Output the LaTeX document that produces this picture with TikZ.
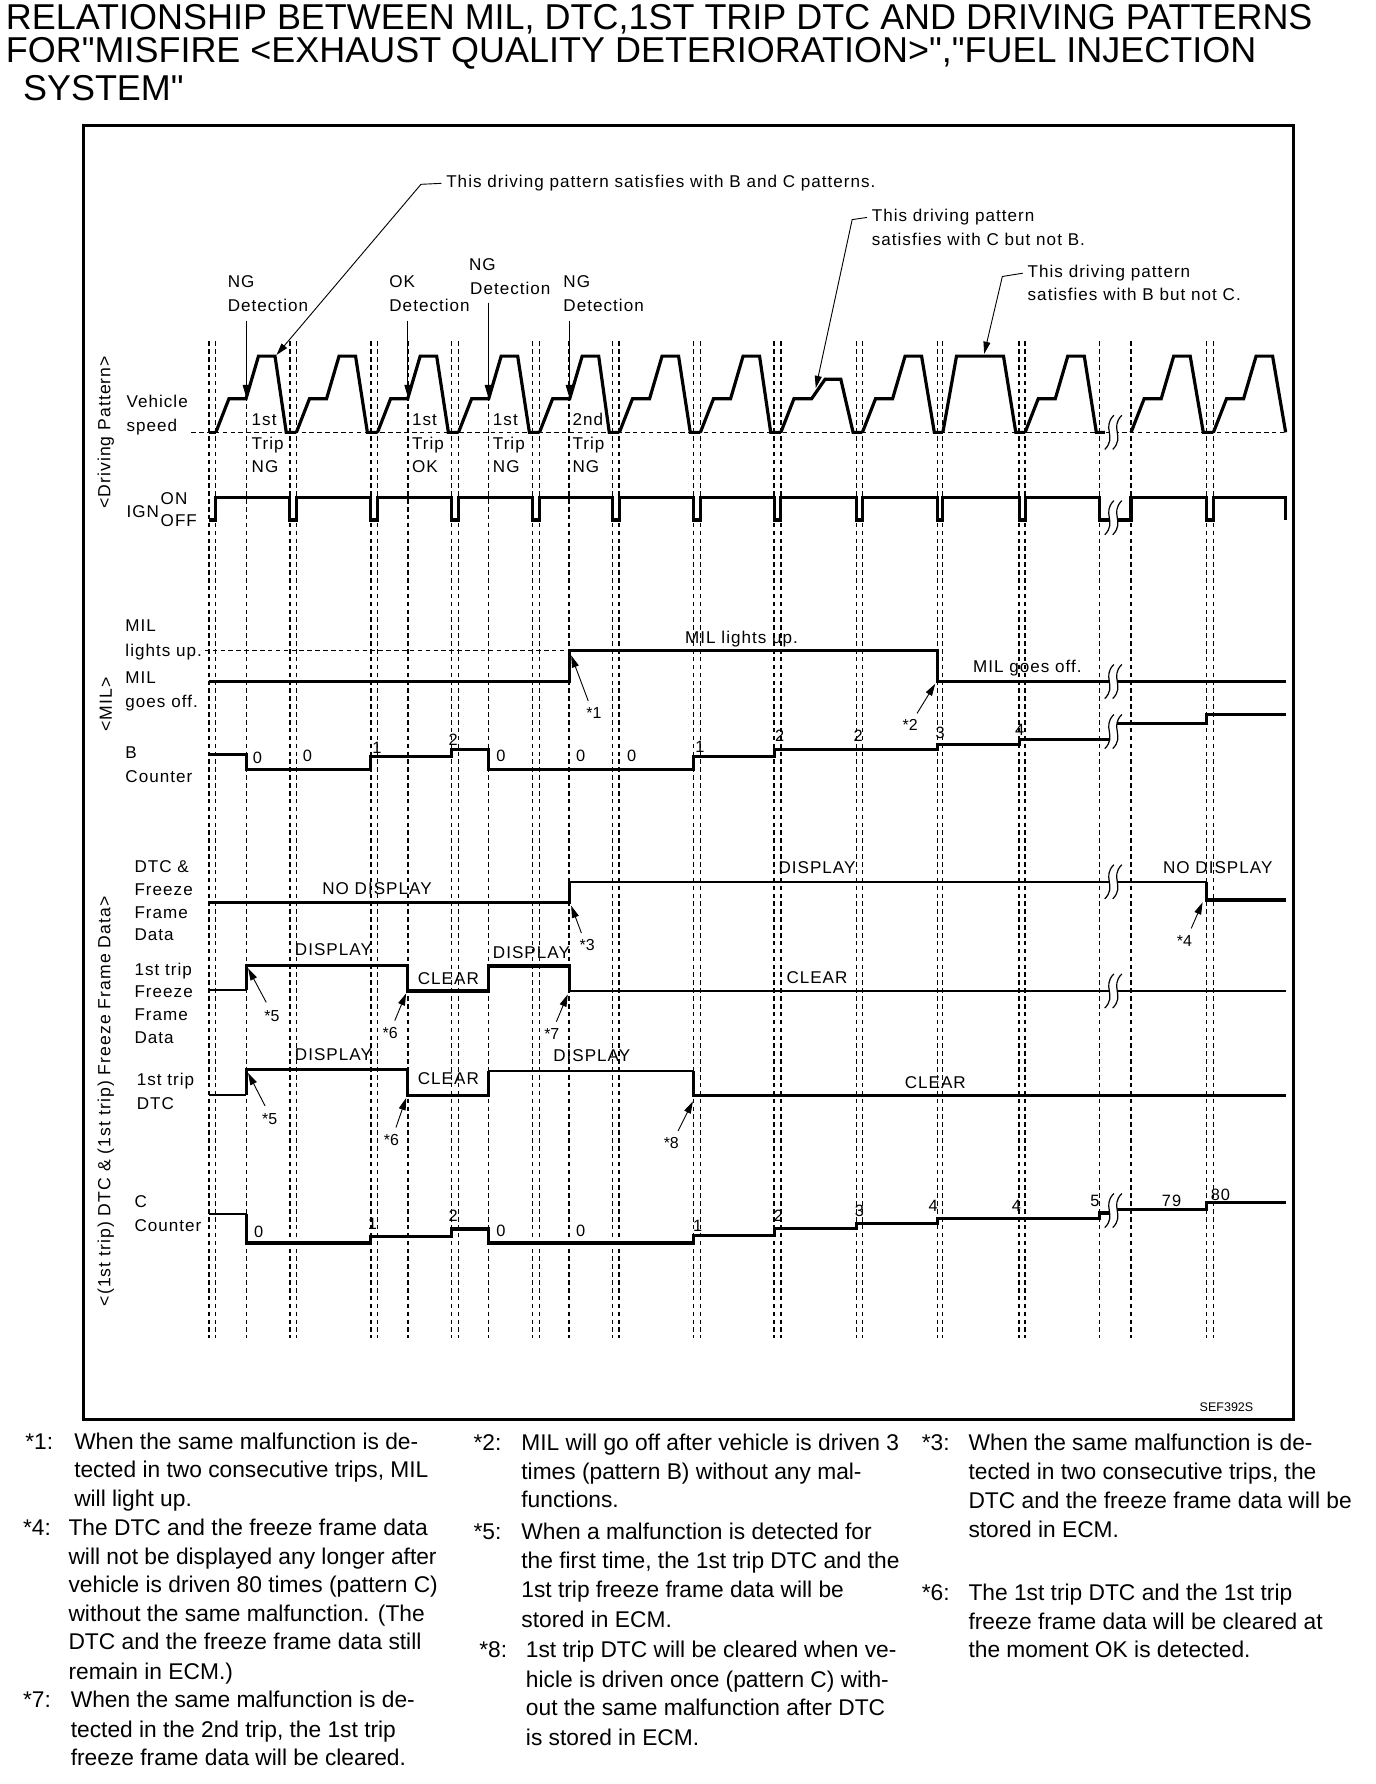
\documentclass[tikz,border=0pt]{standalone}
\usepackage{fontspec}
\setmainfont{Liberation Sans}
\newfontfamily\cf[LetterSpace=6]{Liberation Sans}
\newfontfamily\tf{Liberation Sans}
\usetikzlibrary{arrows.meta}
\newcommand\brksym[2]{%
  \fill[white] (#1+4,#2-15) .. controls (#1-7,#2-4) and (#1+7,#2+4) .. (#1-4,#2+15) -- (#1+3,#2+15) .. controls (#1+14,#2+4) and (#1,#2-4) .. (#1+11,#2-15) -- cycle;
  \draw[brk] (#1+4,#2-15) .. controls (#1-7,#2-4) and (#1+7,#2+4) .. (#1-4,#2+15);
  \draw[brk] (#1+11,#2-15) .. controls (#1,#2-4) and (#1+14,#2+4) .. (#1+3,#2+15);}
\begin{document}
\begin{tikzpicture}[x=0.75pt,y=-0.75pt,
 trace/.style={line width=2.1pt},
 thintrace/.style={line width=1.3pt},
 gridl/.style={line width=0.7pt, dash pattern=on 3pt off 2.2pt},
 gridh/.style={line width=1.2pt, dash pattern=on 3pt off 2.2pt},
 lead/.style={line width=0.6pt},
 arr/.style={line width=0.6pt, -{Triangle[length=8pt,width=4.6pt]}},
 brk/.style={line width=0.8pt},
 lbl/.style={font=\fontsize{11.25}{13}\cf, inner sep=0pt, anchor=base west},
 num/.style={font=\fontsize{10.8}{12}\cf, inner sep=0pt, anchor=base west},
 star/.style={font=\fontsize{10.5}{12}\selectfont, inner sep=0pt},
 fn/.style={font=\fontsize{15}{18}\selectfont, inner sep=0pt, anchor=base west},
 ttl/.style={font=\fontsize{23.7}{28}\tf, inner sep=0pt, anchor=base west},
 side/.style={font=\fontsize{11.6}{13}\cf, inner sep=0pt, rotate=90}]
\fill[white] (0,0) rectangle (1209,1568);
\useasboundingbox (0,0) rectangle (1209,1568);

% ---------- title ----------
\node[ttl] (t1) at (5,26) {RELATIONSHIP BETWEEN MIL, DTC,1ST TRIP DTC AND DRIVING PATTERNS};
\node[ttl] (t2) at (5,55) {FOR"MISFIRE <EXHAUST QUALITY DETERIORATION>","FUEL INJECTION};
\node[ttl] (t3) at (20,88) {SYSTEM"};

% ---------- frame ----------
\draw[line width=2pt] (73,110) rectangle (1137,1248);
\node[font=\fontsize{8.25}{10}\selectfont, inner sep=0pt] (sef) at (1078,1237) {SEF392S};

% ---------- grid ----------
\foreach \x in {189.7,216.4,260.5,331.8,397.1,403,429.1,468.3,474.2,538.5,609.7,615.6,752.8,824.2,828.7,966.6,1060.6,1066.5}
  \draw[gridl] (\x,300) -- (\x,1176);
\foreach \x in {183.4,254.6,325.9,358.5,500.3,544.4,680.4,686.3,758,895.8,901,994.1}
  \draw[gridh] (\x,300) -- (\x,1176);
\draw[gridl] (168,380) -- (1130,380);
\draw[gridl] (180,572) -- (500.3,572);

% ---------- side labels ----------
\node[side] (sdp) at (93,380) {<Driving Pattern>};
\node[side] (smil) at (93,619) {<MIL>};
\node[side] (sdtc) at (93,968) {<(1st trip) DTC \& (1st trip) Freeze Frame Data>};

% ---------- row labels ----------
\node[lbl] at (111,358) {Vehicle};
\node[lbl] at (111,379) {speed};
\node[lbl] at (111,455) {IGN};
\node[lbl] at (141,443) {ON};
\node[lbl] at (141,463) {OFF};
\node[lbl] at (110,555) {MIL};
\node[lbl] at (110,577) {lights up.};
\node[lbl] at (110,601) {MIL};
\node[lbl] at (110,622) {goes off.};
\node[lbl] at (110,667) {B};
\node[lbl] at (110,688) {Counter};
\node[lbl] at (118,767) {DTC \&};
\node[lbl] at (118,787) {Freeze};
\node[lbl] at (118,807) {Frame};
\node[lbl] at (118,827) {Data};
\node[lbl] at (118,857) {1st trip};
\node[lbl] at (118,877) {Freeze};
\node[lbl] at (118,897) {Frame};
\node[lbl] at (118,917) {Data};
\node[lbl] at (120,954) {1st trip};
\node[lbl] at (120,975) {DTC};
\node[lbl] at (118,1061) {C};
\node[lbl] at (118,1082) {Counter};

% ---------- top annotations ----------
\node[lbl] (annA) at (392,165) {This driving pattern satisfies with B and C patterns.};
\node[lbl] (annB) at (766,195) {This driving pattern};
\node[lbl] at (766,216) {satisfies with C but not B.};
\node[lbl] (annC) at (903,244) {This driving pattern};
\node[lbl] at (903,264) {satisfies with B but not C.};
\coordinate (tipA) at (243,312);
\coordinate (tipB) at (717,341);
\coordinate (tipC) at (865,311);
\draw[arr] ([xshift=-3pt]annA.west) -- (370,162) -- (tipA);
\draw[arr] ([xshift=-3pt]annB.west) -- (749,193) -- (tipB);
\draw[arr] ([xshift=-3pt]annC.west) -- (881,243) -- (tipC);

\node[lbl] at (200,253) {NG};
\node[lbl] (d1) at (200,274) {Detection};
\node[lbl] at (342,253) {OK};
\node[lbl] (d2) at (342,274) {Detection};
\node[lbl] at (412,238) {NG};
\node[lbl] (d3) at (413,259) {Detection};
\node[lbl] at (495,253) {NG};
\node[lbl] (d4) at (495,274) {Detection};
\draw[arr] (216.4,282) -- (216.4,349);
\draw[arr] (358.5,282) -- (358.5,349);
\draw[arr] (429.1,266) -- (429.1,349);
\draw[arr] (500.3,282) -- (500.3,349);

\foreach \x/\a/\b in {221/1st/NG, 362/1st/OK, 433/1st/NG, 503/2nd/NG} {
  \node[lbl] at (\x,374) {\a};
  \node[lbl] at (\x,395) {Trip};
  \node[lbl] at (\x,415) {\b};
}

% ---------- vehicle speed ----------
\draw[trace] (183.4,380) -- (189.7,380);
\foreach \b/\e/\n in {189.7/254.6/260.5, 260.5/325.9/331.8, 331.8/397.1/403, 403/468.3/474.2, 474.2/538.5/544.4, 544.4/609.7/615.6, 615.6/680.4/686.3, 758/824.2/828.7, 901/966.6/971, 994.1/1060.6/1066.5, 1066.5/1133/1130}
  \draw[trace] (\b,380) -- (\b+11.5,350.5) -- (\b+26.5,350.5) -- (\b+37.5,313) -- (\b+52,313) -- (\e-3,380) -- (\n,380);
\draw[trace] (686.3,380) -- (697.8,350.5) -- (713.3,350.5) -- (725.2,333.3) -- (739,333.3) -- (749.8,380) -- (758,380);
\draw[trace] (828.7,380) -- (840.7,313) -- (882,313) -- (892.8,380) -- (901,380);

% ---------- IGN ----------
\draw[trace] (183.4,457) -- (189.7,457) -- (189.7,437)
  -- (254.6,437) -- (254.6,457) -- (260.5,457) -- (260.5,437)
  -- (325.9,437) -- (325.9,457) -- (331.8,457) -- (331.8,437)
  -- (397.1,437) -- (397.1,457) -- (403,457) -- (403,437)
  -- (468.3,437) -- (468.3,457) -- (474.2,457) -- (474.2,437)
  -- (538.5,437) -- (538.5,457) -- (544.4,457) -- (544.4,437)
  -- (609.7,437) -- (609.7,457) -- (615.6,457) -- (615.6,437)
  -- (680.4,437) -- (680.4,457) -- (686.3,457) -- (686.3,437)
  -- (752.8,437) -- (752.8,457) -- (758,457) -- (758,437)
  -- (824.2,437) -- (824.2,457) -- (828.7,457) -- (828.7,437)
  -- (895.8,437) -- (895.8,457) -- (901,457) -- (901,437)
  -- (966.6,437) -- (966.6,457) -- (994.1,457) -- (994.1,437)
  -- (1060.6,437) -- (1060.6,457) -- (1066.5,457) -- (1066.5,437)
  -- (1130,437) -- (1130,457);

% ---------- MIL ----------
\draw[trace] (183.4,599) -- (500.3,599) -- (500.3,572) -- (824.2,572) -- (824.2,599) -- (1130,599);
\node[lbl] at (602,566) {MIL lights up.};
\node[lbl] at (855,591) {MIL goes off.};

% ---------- B counter ----------
\draw[trace] (183.4,663) -- (216.4,663) -- (216.4,676) -- (325.9,676) -- (325.9,665) -- (397.1,665) -- (397.1,659) -- (429.1,659) -- (429.1,676) -- (609.7,676) -- (609.7,665) -- (680.4,665) -- (680.4,659) -- (824.2,659) -- (824.2,654.6) -- (895.8,654.6) -- (895.8,650) -- (978,650);
\draw[trace] (981,635.6) -- (1060.6,635.6) -- (1060.6,628.3) -- (1130,628.3);
\foreach \x/\y/\t in {222/671/0, 266/669/0, 327/662/1, 394/655/2, 436/669/0, 506/669/0, 551/669/0, 611/661/1, 681/652/2, 750/652/2, 822/649/3, 892/646/4}
  \node[num] at (\x,\y) {\t};

% ---------- DTC & freeze frame ----------
\draw[trace] (183.4,793) -- (500.3,793) -- (500.3,775);
\draw[thintrace] (500.3,775) -- (1060.6,775);
\draw[trace] (1060.6,775) -- (1060.6,791) -- (1130,791);
\node[lbl] at (283,786) {NO DISPLAY};
\node[lbl] at (684,768) {DISPLAY};
\node[lbl] at (1022,768) {NO DISPLAY};

% ---------- 1st trip freeze frame ----------
\draw[thintrace] (183.4,870) -- (216.4,870);
\draw[trace] (216.4,870) -- (216.4,848.5) -- (358.5,848.5) -- (358.5,871) -- (429.1,871) -- (429.1,849) -- (500.3,849) -- (500.3,871);
\draw[thintrace] (500.3,871) -- (1130,871);
\node[lbl] at (259,840) {DISPLAY};
\node[lbl] at (367,865) {CLEAR};
\node[lbl] at (433,842) {DISPLAY};
\node[lbl] at (691,864) {CLEAR};

% ---------- 1st trip DTC ----------
\draw[thintrace] (183.4,962) -- (216.4,962);
\draw[trace] (216.4,962) -- (216.4,940) -- (358.5,940) -- (358.5,962.6) -- (429.1,962.6) -- (429.1,941);
\draw[thintrace] (429.1,941) -- (609.7,941);
\draw[trace] (609.7,941) -- (609.7,963) -- (1130,963);
\node[lbl] at (259,932) {DISPLAY};
\node[lbl] at (367,953) {CLEAR};
\node[lbl] at (486,933) {DISPLAY};
\node[lbl] at (795,957) {CLEAR};

% ---------- C counter ----------
\draw[thintrace] (183.4,1067) -- (216.4,1067);
\draw[trace] (216.4,1067) -- (216.4,1092.5) -- (325.9,1092.5) -- (325.9,1086.7) -- (397.1,1086.7) -- (397.1,1080.2) -- (429.1,1080.2) -- (429.1,1092.5) -- (609.7,1092.5) -- (609.7,1086) -- (680.4,1086) -- (680.4,1080) -- (752.8,1080) -- (752.8,1075.5) -- (824.2,1075.5) -- (824.2,1071.1) -- (966.6,1071.1) -- (966.6,1066.2) -- (977,1066.2);
\draw[trace] (981,1063.2) -- (1060.6,1063.2) -- (1060.6,1056.8) -- (1130,1056.8);
\foreach \x/\y/\t in {223/1088/0, 323/1081/1, 394/1074/2, 436/1087/0, 506/1087/0, 609/1082/1, 680/1074/2, 751/1069/3, 816/1065/4, 889/1065/4, 958/1060/5, 1021/1060/79, 1064/1055/80}
  \node[num] at (\x,\y) {\t};

% ---------- breaks ----------
\brksym{975}{380}
\brksym{975}{455}
\brksym{975}{599}
\brksym{975}{643}
\brksym{975}{775}
\brksym{975}{871}
\brksym{975}{1064}

% ---------- note markers ----------
\node[star] (s1) at (522,627) {*1};
\node[star] (s2) at (800,637) {*2};
\node[star] (s3) at (516,831) {*3};
\node[star] (s4) at (1041,827) {*4};
\node[star] (s5a) at (239,893) {*5};
\node[star] (s6a) at (343,908) {*6};
\node[star] (s7) at (485,909) {*7};
\node[star] (s5b) at (237,984) {*5};
\node[star] (s6b) at (344,1002) {*6};
\node[star] (s8) at (590,1005) {*8};
\coordinate (m1) at (502,576);
\coordinate (m2) at (822,601);
\coordinate (m3) at (502,796);
\coordinate (m4) at (1057,793);
\coordinate (m5a) at (218,851);
\coordinate (m6a) at (357,873);
\coordinate (m7) at (499,874);
\coordinate (m5b) at (218,943);
\coordinate (m6b) at (357,965);
\coordinate (m8) at (609,968);
\draw[arr] ([shift={(-5,-11)}]s1.center) -- (m1);
\draw[arr] ([shift={(6,-10)}]s2.center) -- (m2);
\draw[arr] ([shift={(-5,-11)}]s3.center) -- (m3);
\draw[arr] ([shift={(6,-11)}]s4.center) -- (m4);
\draw[arr] ([shift={(-5,-12)}]s5a.center) -- (m5a);
\draw[arr] ([shift={(4,-11)}]s6a.center) -- (m6a);
\draw[arr] ([shift={(4,-11)}]s7.center) -- (m7);
\draw[arr] ([shift={(-4,-12)}]s5b.center) -- (m5b);
\draw[arr] ([shift={(4,-11)}]s6b.center) -- (m6b);
\draw[arr] ([shift={(6,-11)}]s8.center) -- (m8);

% ---------- footnotes ----------
\node[fn] at (22,1274) {*1:};
\node[fn] at (65,1274) {When the same malfunction is de-};
\node[fn] at (65,1299) {tected in two consecutive trips, MIL};
\node[fn] at (65,1324) {will light up.};
\node[fn] at (20,1350) {*4:};
\node[fn] at (60,1350) {The DTC and the freeze frame data};
\node[fn] at (60,1375) {will not be displayed any longer after};
\node[fn] at (60,1400) {vehicle is driven 80 times (pattern C)};
\node[fn] at (60,1425) {without the same malfunction. (The};
\node[fn] at (60,1450) {DTC and the freeze frame data still};
\node[fn] at (60,1476) {remain in ECM.)};
\node[fn] at (20,1501) {*7:};
\node[fn] at (62,1501) {When the same malfunction is de-};
\node[fn] at (62,1527) {tected in the 2nd trip, the 1st trip};
\node[fn] at (62,1552) {freeze frame data will be cleared.};

\node[fn] at (416,1275) {*2:};
\node[fn] at (458,1275) {MIL will go off after vehicle is driven 3};
\node[fn] at (458,1300) {times (pattern B) without any mal-};
\node[fn] at (458,1325) {functions.};
\node[fn] at (416,1353) {*5:};
\node[fn] at (458,1353) {When a malfunction is detected for};
\node[fn] at (458,1379) {the first time, the 1st trip DTC and the};
\node[fn] at (458,1404) {1st trip freeze frame data will be};
\node[fn] at (458,1430) {stored in ECM.};
\node[fn] at (421,1457) {*8:};
\node[fn] at (462,1457) {1st trip DTC will be cleared when ve-};
\node[fn] at (462,1483) {hicle is driven once (pattern C) with-};
\node[fn] at (462,1508) {out the same malfunction after DTC};
\node[fn] at (462,1534) {is stored in ECM.};

\node[fn] at (810,1275) {*3:};
\node[fn] at (851,1275) {When the same malfunction is de-};
\node[fn] at (851,1300) {tected in two consecutive trips, the};
\node[fn] at (851,1326) {DTC and the freeze frame data will be};
\node[fn] at (851,1351) {stored in ECM.};
\node[fn] at (810,1407) {*6:};
\node[fn] at (851,1407) {The 1st trip DTC and the 1st trip};
\node[fn] at (851,1432) {freeze frame data will be cleared at};
\node[fn] at (851,1457) {the moment OK is detected.};
\end{tikzpicture}
\end{document}
